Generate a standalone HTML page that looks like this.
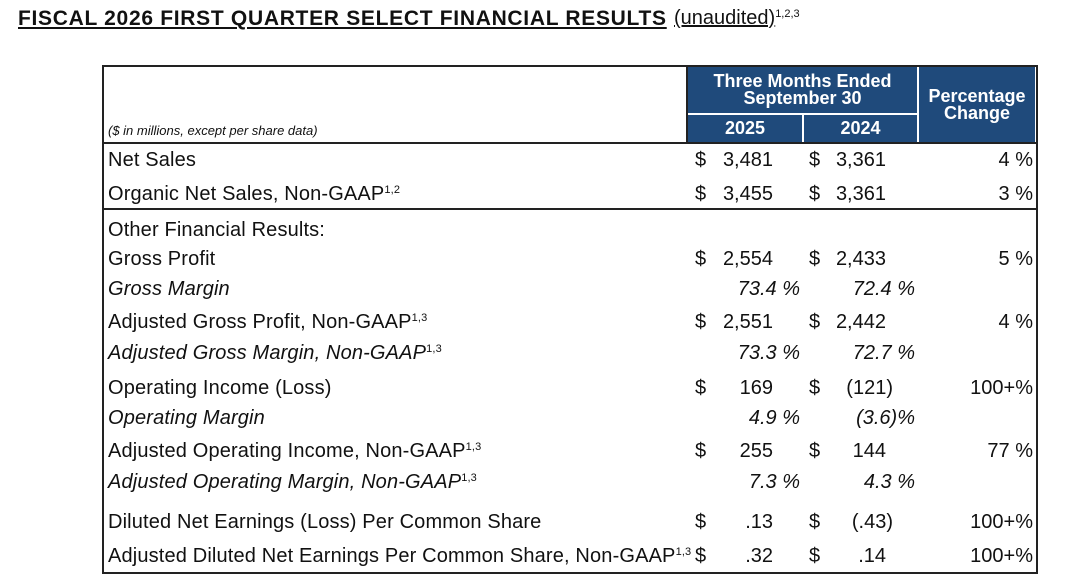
<!DOCTYPE html>
<html><head><meta charset="utf-8"><style>
body{margin:0;width:1080px;height:582px;background:#fff;position:relative;font-family:"Liberation Sans",sans-serif;color:#111;overflow:hidden}
.a{position:absolute;white-space:nowrap;line-height:1}
.l{font-size:20px;left:108px;letter-spacing:0.15px}
.i{font-style:italic}
.r{text-align:right}
sup{font-size:11px;vertical-align:7px;line-height:0;font-style:normal}
.hd{position:absolute;background:#1f4a7b;color:#fff;font-weight:bold;text-align:center;font-size:17px;line-height:17px}
</style></head><body>
<div class="a" style="left:18px;top:8px;font-size:21px;font-weight:bold;text-decoration:underline;letter-spacing:0.7px">FISCAL 2026 FIRST QUARTER SELECT FINANCIAL RESULTS</div>
<div class="a" style="left:674px;top:8px;font-size:20px;"><span style="text-decoration:underline">(unaudited)</span><sup>1,2,3</sup></div>

<div style="position:absolute;left:102px;top:65px;width:932px;height:505px;border:2px solid #222"></div>
<div class="hd" style="left:688px;top:67px;width:229px;height:46px;padding-top:6px;box-sizing:border-box;font-size:18px">Three Months Ended<br>September 30</div>
<div class="hd" style="left:688px;top:115px;width:114px;height:27px;padding-top:5px;box-sizing:border-box;font-size:18px">2025</div>
<div class="hd" style="left:804px;top:115px;width:113px;height:27px;padding-top:5px;box-sizing:border-box;font-size:18px">2024</div>
<div class="hd" style="left:919px;top:67px;width:116px;height:75px;padding-top:21px;box-sizing:border-box;font-size:18px">Percentage<br>Change</div>
<div style="position:absolute;left:686px;top:66px;width:2px;height:77px;background:#222"></div>
<div style="position:absolute;left:102px;top:142px;width:934px;height:2px;background:#222"></div>
<div style="position:absolute;left:102px;top:208px;width:934px;height:2px;background:#222"></div>

<div class="a i" style="left:108px;top:124px;font-size:13px">($ in millions, except per share data)</div>

<div class="a l" style="top:150px">Net Sales</div>
<div class="a l" style="top:184px">Organic Net Sales, Non-GAAP<sup>1,2</sup></div>
<div class="a l" style="top:220px">Other Financial Results:</div>
<div class="a l" style="top:249px">Gross Profit</div>
<div class="a l i" style="top:279px">Gross Margin</div>
<div class="a l" style="top:312px">Adjusted Gross Profit, Non-GAAP<sup>1,3</sup></div>
<div class="a l i" style="top:343px">Adjusted Gross Margin, Non-GAAP<sup>1,3</sup></div>
<div class="a l" style="top:378px">Operating Income (Loss)</div>
<div class="a l i" style="top:408px">Operating Margin</div>
<div class="a l" style="top:441px">Adjusted Operating Income, Non-GAAP<sup>1,3</sup></div>
<div class="a l i" style="top:472px">Adjusted Operating Margin, Non-GAAP<sup>1,3</sup></div>
<div class="a l" style="top:512px">Diluted Net Earnings (Loss) Per Common Share</div>
<div class="a l" style="top:546px">Adjusted Diluted Net Earnings Per Common Share, Non-GAAP<sup>1,3</sup></div>

<div class="a" style="left:695px;top:150px;font-size:20px">$</div><div class="a" style="left:809px;top:150px;font-size:20px">$</div>
<div class="a" style="left:695px;top:184px;font-size:20px">$</div><div class="a" style="left:809px;top:184px;font-size:20px">$</div>
<div class="a" style="left:695px;top:249px;font-size:20px">$</div><div class="a" style="left:809px;top:249px;font-size:20px">$</div>
<div class="a" style="left:695px;top:312px;font-size:20px">$</div><div class="a" style="left:809px;top:312px;font-size:20px">$</div>
<div class="a" style="left:695px;top:378px;font-size:20px">$</div><div class="a" style="left:809px;top:378px;font-size:20px">$</div>
<div class="a" style="left:695px;top:441px;font-size:20px">$</div><div class="a" style="left:809px;top:441px;font-size:20px">$</div>
<div class="a" style="left:695px;top:512px;font-size:20px">$</div><div class="a" style="left:809px;top:512px;font-size:20px">$</div>
<div class="a" style="left:695px;top:546px;font-size:20px">$</div><div class="a" style="left:809px;top:546px;font-size:20px">$</div>

<div class="a r" style="right:307px;top:150px;font-size:20px">3,481</div>
<div class="a r" style="right:307px;top:184px;font-size:20px">3,455</div>
<div class="a r" style="right:307px;top:249px;font-size:20px">2,554</div>
<div class="a r i" style="right:280px;top:279px;font-size:20px">73.4 %</div>
<div class="a r" style="right:307px;top:312px;font-size:20px">2,551</div>
<div class="a r i" style="right:280px;top:343px;font-size:20px">73.3 %</div>
<div class="a r" style="right:307px;top:378px;font-size:20px">169</div>
<div class="a r i" style="right:280px;top:408px;font-size:20px">4.9 %</div>
<div class="a r" style="right:307px;top:441px;font-size:20px">255</div>
<div class="a r i" style="right:280px;top:472px;font-size:20px">7.3 %</div>
<div class="a r" style="right:307px;top:512px;font-size:20px">.13</div>
<div class="a r" style="right:307px;top:546px;font-size:20px">.32</div>

<div class="a r" style="right:194px;top:150px;font-size:20px">3,361</div>
<div class="a r" style="right:194px;top:184px;font-size:20px">3,361</div>
<div class="a r" style="right:194px;top:249px;font-size:20px">2,433</div>
<div class="a r i" style="right:165px;top:279px;font-size:20px">72.4 %</div>
<div class="a r" style="right:194px;top:312px;font-size:20px">2,442</div>
<div class="a r i" style="right:165px;top:343px;font-size:20px">72.7 %</div>
<div class="a r" style="right:187px;top:378px;font-size:20px">(121)</div>
<div class="a r i" style="right:165px;top:408px;font-size:20px">(3.6)%</div>
<div class="a r" style="right:194px;top:441px;font-size:20px">144</div>
<div class="a r i" style="right:165px;top:472px;font-size:20px">4.3 %</div>
<div class="a r" style="right:187px;top:512px;font-size:20px">(.43)</div>
<div class="a r" style="right:194px;top:546px;font-size:20px">.14</div>

<div class="a r" style="right:47px;top:150px;font-size:20px">4 %</div>
<div class="a r" style="right:47px;top:184px;font-size:20px">3 %</div>
<div class="a r" style="right:47px;top:249px;font-size:20px">5 %</div>
<div class="a r" style="right:47px;top:312px;font-size:20px">4 %</div>
<div class="a r" style="right:47px;top:378px;font-size:20px">100+%</div>
<div class="a r" style="right:47px;top:441px;font-size:20px">77 %</div>
<div class="a r" style="right:47px;top:512px;font-size:20px">100+%</div>
<div class="a r" style="right:47px;top:546px;font-size:20px">100+%</div>
</body></html>
